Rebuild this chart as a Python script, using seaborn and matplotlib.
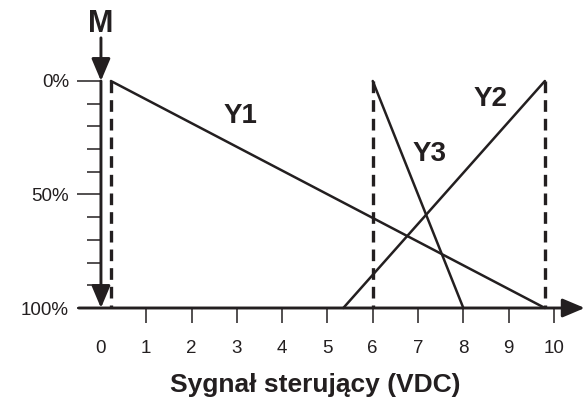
import numpy as np
import pandas as pd
import matplotlib
matplotlib.use("Agg")
import matplotlib.pyplot as plt
import seaborn as sns

# Dane (x = sygnał w VDC, y = otwarcie w %)
y1_x = [0.22, 9.8]
y1_y = [0, 100]
y2_x = [5.35, 9.8]
y2_y = [100, 0]
y3_x = [6.0, 8.0]
y3_y = [0, 100]
dashed_x = [0.22, 6.0, 9.8]

x_ticks = list(range(11))
y_major = [0, 50, 100]
y_major_labels = ["0%", "50%", "100%"]
y_minor = [10, 20, 30, 40, 60, 70, 80, 90]

ink = "#231f20"

sns.set_theme(style="white")
plt.rcParams['font.family'] = ['Liberation Sans', 'DejaVu Sans']

fig = plt.figure(figsize=(5.86, 4.03), dpi=100)
ax = fig.add_axes([0.1259, 0.1794, 0.8735, 0.7886])
ax.set_xlim(-0.6, 10.7)
ax.set_ylim(110, -30)

lines = pd.concat([
    pd.DataFrame({"x": y1_x, "y": y1_y, "serie": "Y1"}),
    pd.DataFrame({"x": y2_x, "y": y2_y, "serie": "Y2"}),
    pd.DataFrame({"x": y3_x, "y": y3_y, "serie": "Y3"}),
])
for name, grp in lines.groupby("serie"):
    sns.lineplot(data=grp, x="x", y="y", color=ink, lw=1.8, ax=ax,
                 sort=False, estimator=None, legend=False)

# linie przerywane
for xd in dashed_x:
    ax.plot([xd, xd], [0, 100], color=ink, lw=2.4, ls=(0, (3.5, 2.1)), clip_on=False)

# osie ze strzałkami
arrow = dict(arrowstyle="-|>,head_length=0.9,head_width=0.38", color=ink,
             lw=2.1, shrinkA=0, shrinkB=0, mutation_scale=15)
ax.annotate("", xy=(10.68, 100), xytext=(-0.49, 100), arrowprops=arrow,
            annotation_clip=False)
ax.annotate("", xy=(0, 0), xytext=(0, -19), arrowprops=arrow, annotation_clip=False)
ax.annotate("", xy=(0, 100), xytext=(0, 0), arrowprops=arrow, annotation_clip=False)

for s in ax.spines.values():
    s.set_visible(False)
ax.spines['bottom'].set_position(('data', 100))
ax.spines['left'].set_position(('data', 0))

ax.set_xticks(x_ticks)
ax.set_xticklabels([str(v) for v in x_ticks])
ax.set_yticks(y_major)
ax.set_yticklabels(y_major_labels)
ax.set_yticks(y_minor, minor=True)
ax.tick_params(axis="x", direction="out", length=11, width=1.1, color=ink,
               pad=12, labelsize=13.5, labelcolor=ink, bottom=True)
ax.tick_params(axis="y", which="major", direction="out", length=17, width=1.1,
               color=ink, pad=6, labelsize=13.5, labelcolor=ink, left=True)
ax.tick_params(axis="y", which="minor", direction="out", length=10, width=1.1,
               color=ink, left=True)
ax.xaxis.get_major_ticks()[0].tick1line.set_visible(False)
ax.set_xlabel("")
ax.set_ylabel("")
ax.grid(False)

# etykiety
ax.text(0, -25, "M", fontsize=22, fontweight="bold", color=ink, ha="center", va="center")
ax.text(3.07, 15.4, "Y1", fontsize=20, fontweight="bold", color=ink, ha="center", va="center")
ax.text(8.59, 7.9, "Y2", fontsize=20, fontweight="bold", color=ink, ha="center", va="center")
ax.text(7.25, 32.2, "Y3", fontsize=20, fontweight="bold", color=ink, ha="center", va="center")

fig.text(315 / 586, 1 - 385 / 403, "Sygnał sterujący (VDC)", fontsize=19,
         fontweight="bold", color=ink, ha="center", va="center")

fig.savefig("out.png", dpi=100, facecolor="white")
